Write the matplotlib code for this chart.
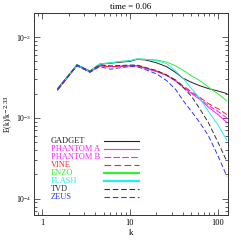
import matplotlib
matplotlib.use("Agg")
import matplotlib.pyplot as plt

plt.rcParams['font.family'] = ['Liberation Serif', 'DejaVu Serif']
plt.rcParams['mathtext.fontset'] = 'dejavuserif'

k = [1.5, 2.5, 3.5, 4.5, 6, 8, 10, 12, 15, 20, 26, 33, 40, 50, 62, 78, 100, 126]

gadget = [2.3e-3, 4.55e-3, 3.8e-3, 4.6e-3, 4.75e-3, 4.9e-3, 5.0e-3, 5.3e-3, 5.2e-3, 4.8e-3,
          4.3e-3, 3.65e-3, 3.1e-3, 2.75e-3, 2.5e-3, 2.3e-3, 2.15e-3, 2.0e-3]
phantom_a = [2.2e-3, 4.45e-3, 3.7e-3, 4.4e-3, 4.3e-3, 4.35e-3, 4.4e-3, 4.4e-3, 4.1e-3, 3.75e-3,
             3.35e-3, 2.85e-3, 2.4e-3, 2.0e-3, 1.7e-3, 1.35e-3, 1.1e-3, 8.8e-4]
phantom_b = [2.2e-3, 4.45e-3, 3.7e-3, 4.4e-3, 4.3e-3, 4.35e-3, 4.4e-3, 4.4e-3, 4.1e-3, 3.75e-3,
             3.35e-3, 2.9e-3, 2.45e-3, 2.05e-3, 1.75e-3, 1.42e-3, 1.2e-3, 1.0e-3]
vine = [2.2e-3, 4.45e-3, 3.7e-3, 4.4e-3, 4.3e-3, 4.35e-3, 4.4e-3, 4.45e-3, 4.15e-3, 3.8e-3,
        3.4e-3, 2.95e-3, 2.5e-3, 2.1e-3, 1.8e-3, 1.5e-3, 1.3e-3, 1.1e-3]
enzo = [2.25e-3, 4.5e-3, 3.75e-3, 4.65e-3, 4.8e-3, 5.0e-3, 5.1e-3, 5.35e-3, 5.3e-3, 5.2e-3,
        4.9e-3, 4.4e-3, 3.9e-3, 3.3e-3, 2.9e-3, 2.4e-3, 1.98e-3, 1.62e-3]
flash = [2.25e-3, 4.5e-3, 3.75e-3, 4.6e-3, 4.8e-3, 5.0e-3, 5.1e-3, 5.35e-3, 5.3e-3, 5.1e-3,
         4.7e-3, 3.8e-3, 3.1e-3, 2.3e-3, 1.75e-3, 1.2e-3, 8.2e-4, 5.3e-4]
tvd = [2.25e-3, 4.5e-3, 3.75e-3, 4.5e-3, 4.4e-3, 4.45e-3, 4.5e-3, 4.5e-3, 4.2e-3, 3.85e-3,
       3.4e-3, 2.9e-3, 2.4e-3, 1.85e-3, 1.3e-3, 8.7e-4, 5.0e-4, 2.9e-4]
zeus = [2.25e-3, 4.4e-3, 3.65e-3, 4.3e-3, 4.0e-3, 4.2e-3, 4.3e-3, 4.3e-3, 3.95e-3, 3.5e-3,
        2.9e-3, 2.25e-3, 1.65e-3, 1.2e-3, 8.8e-4, 6.0e-4, 3.4e-4, 1.9e-4]

labels = ['GADGET', 'PHANTOM A', 'PHANTOM B', 'VINE', 'ENZO', 'FLASH', 'TVD', 'ZEUS']
series = [gadget, phantom_a, phantom_b, vine, enzo, flash, tvd, zeus]
colors = ['#222222', '#ff22ff', '#ff22ff', '#ff2222', '#33ee33', '#22eeee', '#333333', '#3333ff']
dashes = [None, None, (6, 2), (6, 3), None, None, (5, 2.5), (5, 2.5)]
legend_lw = [0.8, 0.8, 0.8, 0.8, 1.6, 1.6, 0.8, 0.8]

fig = plt.figure(figsize=(2.41, 2.41), dpi=100)
ax = fig.add_axes([0.141, 0.108, 0.805, 0.838])

for i, (lab, vals) in enumerate(zip(labels, series)):
    line, = ax.plot(k, vals, color=colors[i], lw=0.7)
    if dashes[i]:
        line.set_dashes(dashes[i])
    # legend entry: text on the left, line sample on the right
    yy = 0.368 - i * 0.0396
    ax.text(0.088, yy, lab, color=colors[i], fontsize=6, va='center', ha='left',
            transform=ax.transAxes)
    seg, = ax.plot([0.361, 0.541], [yy, yy], color=colors[i], lw=legend_lw[i],
                   transform=ax.transAxes)
    if dashes[i]:
        seg.set_dashes(dashes[i])

ax.set_xscale('log')
ax.set_yscale('log')
ax.set_xlim(0.81, 130)
ax.set_ylim(6.3e-5, 1.98e-2)
ax.set_xticks([1, 10, 100])
ax.set_xticklabels(['1', '10', '100'])
ax.tick_params(which='both', direction='in', top=True, right=True, labelsize=6, pad=3,
               width=0.6, color='#444444')
ax.tick_params(axis='y', labelsize=5.5, pad=2)
ax.tick_params(which='major', length=4)
ax.tick_params(which='minor', length=2)
for s in ax.spines.values():
    s.set_linewidth(0.7)
    s.set_color('#333333')

ax.set_xlabel('k', fontsize=6.5, labelpad=1)
ax.set_ylabel(r'E(k)/k$^{-2.33}$', fontsize=5.5)
ax.yaxis.set_label_coords(-0.1, 0.5)
ax.set_title('time = 0.06', fontsize=6.5, pad=3)

fig.savefig('out.png', dpi=100)
